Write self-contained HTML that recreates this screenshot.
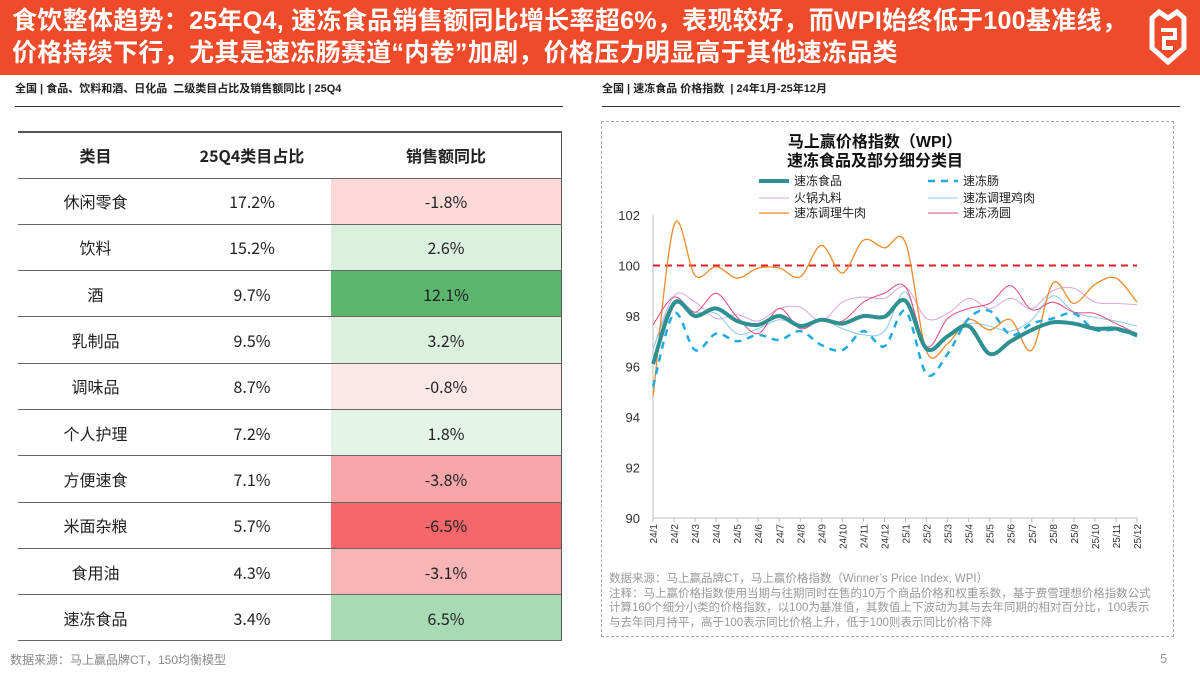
<!DOCTYPE html>
<html><head><meta charset="utf-8">
<style>
*{margin:0;padding:0;box-sizing:border-box}
body{width:1200px;height:675px;background:#fff;position:relative;overflow:hidden;font-family:"Liberation Sans","Noto Sans CJK SC",sans-serif}
.hdr{position:absolute;left:0;top:0;width:1200px;height:75px;background:#ef4b2b}
.hdr h1{position:absolute;left:12px;top:5px;color:#fff;font-size:25px;line-height:32px;font-weight:bold;letter-spacing:0.3px;white-space:nowrap}
.sub{position:absolute;top:80px;font-size:11px;font-weight:bold;color:#222}
.rule{position:absolute;top:106px;height:1px;background:#333}
table{position:absolute;left:18px;top:131px;width:544px;border-collapse:collapse;border-top:2px solid #555;border-right:1px solid #555}
td,th{height:46.3px;text-align:center;vertical-align:middle;font-size:16px;line-height:16px;color:#222;border-bottom:1.5px solid #666;font-family:"Noto Sans CJK SC","Liberation Sans",sans-serif}
th{font-weight:bold;height:46px}
.src{position:absolute;left:10px;top:651px;font-size:12px;color:#888}
.box{position:absolute;left:601px;top:121px;width:573px;height:516px;border:1px dashed #aaa}
.note{position:absolute;left:609px;top:572px;font-size:11.5px;line-height:14.5px;color:#999;width:552px}
.pg{position:absolute;left:1160px;top:651px;font-size:13px;color:#999}
</style></head><body>
<div class="hdr"><h1>食饮整体趋势：25年Q4, 速冻食品销售额同比增长率超6%，表现较好，而WPI始终低于100基准线，<br>价格持续下行，尤其是速冻肠赛道“内卷”加剧，价格压力明显高于其他速冻品类</h1>
<svg style="position:absolute;left:1147px;top:8px" width="42" height="58" viewBox="0 0 42 58"><path d="M5 10 L12 4 L21 10 L30 4 L37 10 L37 40 L21 54 L5 40 Z" fill="none" stroke="#fff" stroke-width="5"/><path d="M14 22 L28 22 L28 30 L17 30 L17 40 L26 40" fill="none" stroke="#fff" stroke-width="4"/></svg></div>
<div class="sub" style="left:15px">全国 | 食品、饮料和酒、日化品&nbsp; 二级类目占比及销售额同比 | 25Q4</div>
<div class="sub" style="left:602px">全国 | 速冻食品 价格指数&nbsp; | 24年1月-25年12月</div>
<div class="rule" style="left:15px;width:548px"></div>
<div class="rule" style="left:602px;width:578px"></div>
<table>
<tr><th style="width:155px">类目</th><th style="width:158px">25Q4类目占比</th><th>销售额同比</th></tr>
<tr><td>休闲零食</td><td>17.2%</td><td style="background:#fcd9d9">-1.8%</td></tr>
<tr><td>饮料</td><td>15.2%</td><td style="background:#dcf0e0">2.6%</td></tr>
<tr><td>酒</td><td>9.7%</td><td style="background:#5cb66f">12.1%</td></tr>
<tr><td>乳制品</td><td>9.5%</td><td style="background:#dbf0df">3.2%</td></tr>
<tr><td>调味品</td><td>8.7%</td><td style="background:#fde8e8">-0.8%</td></tr>
<tr><td>个人护理</td><td>7.2%</td><td style="background:#e4f4e7">1.8%</td></tr>
<tr><td>方便速食</td><td>7.1%</td><td style="background:#f8a6a8">-3.8%</td></tr>
<tr><td>米面杂粮</td><td>5.7%</td><td style="background:#f5676a">-6.5%</td></tr>
<tr><td>食用油</td><td>4.3%</td><td style="background:#f9b4b6">-3.1%</td></tr>
<tr><td>速冻食品</td><td>3.4%</td><td style="background:#a8dbb4">6.5%</td></tr>
</table>
<div class="src">数据来源：马上赢品牌CT，150均衡模型</div>
<div class="box"></div>
<svg id="chart" style="position:absolute;left:0;top:0" width="1200" height="675"></svg>
<div class="note">数据来源：马上赢品牌CT，马上赢价格指数（Winner’s Price Index, WPI）<br>注释：马上赢价格指数使用当期与往期同时在售的10万个商品价格和权重系数，基于费雪理想价格指数公式计算160个细分小类的价格指数，以100为基准值，其数值上下波动为其与去年同期的相对百分比，100表示与去年同月持平，高于100表示同比价格上升，低于100则表示同比价格下降</div>
<div class="pg">5</div>
<script>
const months=["24/1","24/2","24/3","24/4","24/5","24/6","24/7","24/8","24/9","24/10","24/11","24/12","25/1","25/2","25/3","25/4","25/5","25/6","25/7","25/8","25/9","25/10","25/11","25/12"];
const yTicks=[90,92,94,96,98,100,102];
const frozenFood=[96.1,98.5,98.0,98.3,97.8,97.65,98.0,97.6,97.85,97.7,98.0,97.97,98.6,96.7,97.2,97.6,96.5,97.0,97.45,97.75,97.7,97.5,97.5,97.25];
const sausage=[95.2,98.1,96.65,97.3,97.0,97.25,97.05,97.4,96.85,96.65,97.4,96.8,98.2,95.7,96.5,97.9,98.2,97.25,97.7,97.9,98.1,97.45,97.45,97.2];
const hotpotBalls=[96.7,98.8,98.55,97.9,98.05,97.8,98.3,98.35,97.8,98.55,98.75,98.7,99.15,97.9,98.1,98.7,98.3,98.7,98.3,99.0,99.1,98.55,98.5,98.45];
const chicken=[96.7,98.6,98.15,98.1,97.3,97.5,97.85,97.65,97.85,97.5,97.25,97.4,98.95,96.8,97.2,97.7,97.6,97.4,97.85,98.8,98.15,97.95,97.8,97.6];
const beef=[94.8,101.6,99.6,99.95,99.5,99.9,99.9,99.55,100.8,99.7,101.0,100.7,100.9,96.6,96.9,97.85,97.45,97.85,96.65,99.3,98.5,99.25,99.5,98.55];
const tangyuan=[97.65,98.75,98.15,98.9,97.95,97.3,98.3,97.5,97.85,97.8,98.55,98.9,99.15,96.8,97.9,98.3,98.5,99.2,98.25,98.55,98.15,98.1,97.7,97.3];
const baseline=100;
const NS="http://www.w3.org/2000/svg";
const svg=document.getElementById('chart');
const X0=653,X1=1137,Y0=518,Y1=215;
const xs=i=>X0+i*(X1-X0)/(months.length-1);
const ys=v=>Y0-(v-90)*(Y0-Y1)/12;
function mk(tag,attrs){const e=document.createElementNS(NS,tag);for(const k in attrs)e.setAttribute(k,attrs[k]);svg.appendChild(e);return e;}
function txt(x,y,s,attrs){const t=mk('text',Object.assign({x:x,y:y,'font-family':'"Liberation Sans","Noto Sans CJK SC",sans-serif'},attrs));t.textContent=s;return t;}
let t=txt(875,147,'马上赢价格指数（WPI）',{'font-size':16,'font-weight':'bold','text-anchor':'middle',fill:'#111'});


t=txt(875,166,'速冻食品及部分细分类目',{'font-size':16,'font-weight':'bold','text-anchor':'middle',fill:'#111'});


let ax=mk('line',{x1:X0,y1:Y1,x2:X0,y2:Y0,stroke:'#bbb','stroke-width':1});


ax=mk('line',{x1:X0,y1:Y0,x2:X1,y2:Y0,stroke:'#bbb','stroke-width':1});


yTicks.forEach(v=>{const e=txt(640,ys(v)+5,String(v),{'font-size':13,'text-anchor':'end',fill:'#333'});

});
months.forEach((m,i)=>{const x=xs(i);mk('line',{x1:x,y1:Y0,x2:x,y2:Y0+4,stroke:'#bbb'});
const e=txt(0,0,m,{'font-size':10,'text-anchor':'end',fill:'#333',transform:`translate(${x+4},${Y0+6}) rotate(-90)`});

});
let bl=mk('line',{x1:X0,y1:ys(baseline),x2:X1,y2:ys(baseline),stroke:'#e02020','stroke-width':2,'stroke-dasharray':'7,5'});


function smooth(arr){const p=arr.map((v,i)=>[xs(i),ys(v)]);let d=`M${p[0][0]},${p[0][1]}`;
for(let i=0;i<p.length-1;i++){const a=p[i-1]||p[i],b=p[i],c=p[i+1],e=p[i+2]||c;
d+=` C${b[0]+(c[0]-a[0])/6},${b[1]+(c[1]-a[1])/6} ${c[0]-(e[0]-b[0])/6},${c[1]-(e[1]-b[1])/6} ${c[0]},${c[1]}`;}return d;}
const series=[
 [hotpotBalls,'#d9a6e0',1,null,'series-hotpot-balls'],
 [chicken,'#8cc8e8',1,null,'series-chicken'],
 [beef,'#ef8a2e',1.3,null,'series-beef'],
 [tangyuan,'#e04a7a',1,null,'series-tangyuan'],
 [sausage,'#22aadd',2.5,'7,6','series-sausage'],
 [frozenFood,'#2e9090',4,null,'series-frozen-food']];
series.forEach(s=>{const p=mk('path',{d:smooth(s[0]),fill:'none',stroke:s[1],'stroke-width':s[2]});if(s[3])p.setAttribute('stroke-dasharray',s[3]);

});
const legend=[['速冻食品','#2e9090',4,null,759,181],['速冻肠','#22aadd',2.5,'7,6',928,181],['火锅丸料','#d9a6e0',1,null,759,198],['速冻调理鸡肉','#8cc8e8',1,null,928,198],['速冻调理牛肉','#ef8a2e',1.3,null,759,213],['速冻汤圆','#e04a7a',1,null,928,213]];
legend.forEach(l=>{const ln=mk('line',{x1:l[4],y1:l[5],x2:l[4]+30,y2:l[5],stroke:l[1],'stroke-width':l[2]});if(l[3])ln.setAttribute('stroke-dasharray',l[3]);


const e=txt(l[4]+35,l[5]+4,l[0],{'font-size':12,fill:'#222'});

});
</script>
</body></html>
